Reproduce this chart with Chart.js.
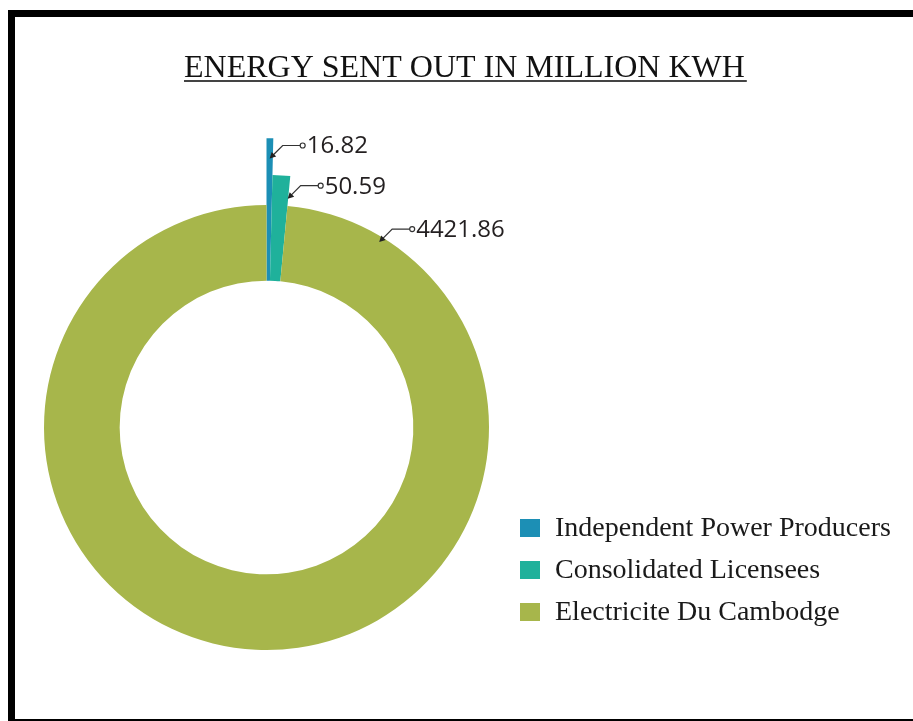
<!DOCTYPE html>
<html>
<head>
<meta charset="utf-8">
<script src="https://cdn.jsdelivr.net/npm/chart.js@4/dist/chart.umd.min.js"></script>
<style>
  html, body { margin:0; padding:0; background:#fff; overflow:hidden; width:913px; height:721px; }
  #frame { position:absolute; left:8px; top:10px; width:1000px; height:716px; box-sizing:border-box; border:7px solid #000; }
  #c { position:absolute; left:0; top:0; }
</style>
</head>
<body>
<div id="frame"></div>
<canvas id="c" width="913" height="721"></canvas>
<script>
const title = 'ENERGY SENT OUT IN MILLION KWH';
const categories = ['Independent Power Producers', 'Consolidated Licensees', 'Electricite Du Cambodge'];
const energyValues = [16.82, 50.59, 4421.86];
const valueLabels = ['16.82', '50.59', '4421.86'];
const sliceColors = ['#1c8fb5', '#1fb19b', '#a7b64b'];

// style: per-slice outer radius scale (exploded look), label anchor settings
const radiusScale = [1.30, 1.135, 1.0];
const labelAnchor = [ {frac:0.5, r:0.93}, {frac:0.97, r:0.91}, {frac:0.073, r:0.975} ];

const radiusPlugin = {
  id: 'radiusPlugin',
  beforeDatasetsDraw(chart) {
    const meta = chart.getDatasetMeta(0);
    const base = meta.controller.outerRadius;
    meta.data.forEach((el, i) => { el.outerRadius = base * radiusScale[i]; });
  }
};

const decoPlugin = {
  id: 'decoPlugin',
  afterDraw(chart) {
    const ctx = chart.ctx;
    ctx.save();
    // Title
    ctx.fillStyle = '#111';
    ctx.font = '32px "Liberation Serif", "Times New Roman", serif';
    ctx.textBaseline = 'alphabetic';
    ctx.textAlign = 'left';
    const tx = 184, tw = 563;
    ctx.fillText(title, tx, 77, tw);
    const mw = Math.min(ctx.measureText(title).width, tw);
    ctx.fillStyle = '#444';
    ctx.fillRect(tx, 80, mw + 2, 2);

    // Value labels with leader lines
    const meta = chart.getDatasetMeta(0);
    meta.data.forEach((el, i) => {
      const a = labelAnchor[i];
      const ang = el.startAngle + (el.endAngle - el.startAngle) * a.frac;
      const rr = el.outerRadius * a.r;
      const px = el.x + Math.cos(ang) * rr;
      const py = el.y + Math.sin(ang) * rr;
      const ex = px + 13, ey = py - 13;
      const cx = ex + 20, cy = ey;
      ctx.strokeStyle = '#333';
      ctx.lineWidth = 1.2;
      ctx.beginPath();
      ctx.moveTo(px + 3, py - 3);
      ctx.lineTo(ex, ey);
      ctx.lineTo(cx - 2.5, cy);
      ctx.stroke();
      ctx.beginPath();
      ctx.arc(cx, cy, 2.5, 0, Math.PI * 2);
      ctx.stroke();
      // arrowhead
      ctx.fillStyle = '#222';
      ctx.beginPath();
      ctx.moveTo(px, py);
      ctx.lineTo(px + 6.5, py - 2);
      ctx.lineTo(px + 2, py - 6.5);
      ctx.closePath();
      ctx.fill();
      ctx.fillStyle = '#231f20';
      ctx.font = '24px "Open Sans", sans-serif';
      ctx.textBaseline = 'middle';
      ctx.fillText(valueLabels[i], cx + 4, cy + 1);
    });

    // Legend
    const lx = 520, ly0 = 528, step = 42;
    categories.forEach((name, i) => {
      const y = ly0 + i * step;
      ctx.fillStyle = sliceColors[i];
      ctx.fillRect(lx, y - 9, 20, 18);
      ctx.fillStyle = '#1a1a1a';
      ctx.font = '28px "Liberation Serif", "Times New Roman", serif';
      ctx.textBaseline = 'alphabetic';
      ctx.fillText(name, lx + 35, y + 8);
    });
    ctx.restore();
  }
};

new Chart(document.getElementById('c'), {
  type: 'doughnut',
  data: {
    labels: categories,
    datasets: [{
      data: energyValues,
      backgroundColor: sliceColors,
      borderWidth: 0,
      hoverOffset: 0
    }]
  },
  options: {
    responsive: false,
    animation: false,
    cutout: '66%',
    layout: { padding: { left: 44, right: 424, top: 205, bottom: 71 } },
    plugins: {
      legend: { display: false },
      title: { display: false },
      tooltip: { enabled: false }
    }
  },
  plugins: [radiusPlugin, decoPlugin]
});
</script>
</body>
</html>
